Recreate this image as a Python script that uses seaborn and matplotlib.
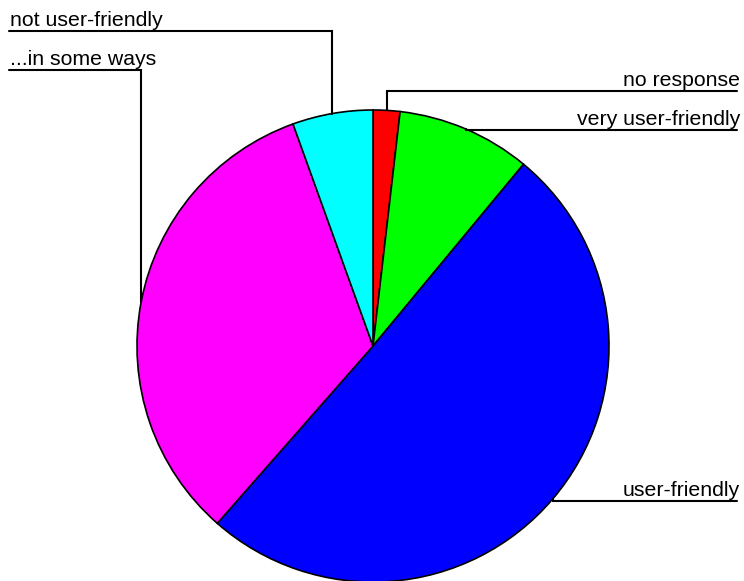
import numpy as np
import matplotlib
matplotlib.use("Agg")
import matplotlib.pyplot as plt
import seaborn as sns

# Data
categories = ["no response", "very user-friendly", "user-friendly", "...in some ways", "not user-friendly"]
counts = [2, 10, 55, 36, 6]
colors = ["#ff0000", "#00ff00", "#0000ff", "#ff00ff", "#00ffff"]
label_side = ["right", "right", "right", "left", "left"]
label_line_y = [91, 130, 501, 70, 31]  # pixel rows (from top) of label leader lines

sns.set_theme(style="white")
plt.rcParams['font.family'] = ['Liberation Sans', 'DejaVu Sans']

W, H = 744, 581
fig = plt.figure(figsize=(W / 100, H / 100), dpi=100)
ax = fig.add_axes([0, 0, 1, 1])

cx, cy, r = 373, H - 346, 236
wedges, _ = ax.pie(counts, colors=colors, startangle=90, counterclock=False,
                   center=(cx, cy), radius=r, frame=True,
                   wedgeprops=dict(edgecolor='black', linewidth=1.2))
ax.set_xlim(0, W)
ax.set_ylim(0, H)
ax.set_aspect('equal')
ax.axis('off')

for w, lab, side, ly in zip(wedges, categories, label_side, label_line_y):
    mid = np.deg2rad((w.theta1 + w.theta2) / 2)
    ax_x = cx + r * np.cos(mid)
    ax_y = cy + r * np.sin(mid)
    LY = H - ly
    if side == "right":
        xs = [ax_x, ax_x, 737]
        ys = [ax_y, LY, LY]
        ax.plot(xs, ys, color='black', lw=1.5, solid_joinstyle='miter')
        ax.text(740, LY + 5, lab, ha='right', va='baseline', fontsize=15.3, color='black')
    else:
        xs = [ax_x, ax_x, 9]
        ys = [ax_y, LY, LY]
        ax.plot(xs, ys, color='black', lw=1.5, solid_joinstyle='miter')
        ax.text(10, LY + 5, lab, ha='left', va='baseline', fontsize=15.3, color='black')

fig.savefig("out.png", dpi=100)
